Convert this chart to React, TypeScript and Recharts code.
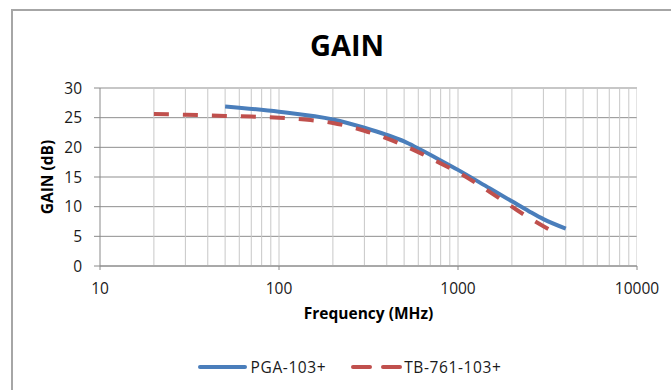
import React from 'react'
import {
	LineChart,
	Line,
	XAxis,
	YAxis,
	CartesianGrid,
	ReferenceLine,
	Legend,
	Label,
} from 'recharts'

const FONT = '"Open Sans", "DejaVu Sans", sans-serif'
const BLUE = '#4a7ebb'
const RED = '#c0504d'

// frequency (MHz) and gain (dB)
const pgaFreq = [50, 100, 200, 300, 400, 500, 600, 800, 1000, 1500, 2000, 2500, 3000, 4000]
const pgaGain = [26.9, 26.0, 24.7, 23.3, 22.1, 21.0, 19.8, 17.8, 16.2, 13.1, 10.9, 9.2, 7.9, 6.3]

const tbFreq = [20, 30, 50, 70, 100, 150, 200, 300, 400, 500, 600, 800, 1000, 1500, 2000, 2500, 3000, 3500]
const tbGain = [25.6, 25.5, 25.3, 25.2, 25.0, 24.6, 24.1, 22.8, 21.5, 20.3, 19.2, 17.3, 15.8, 12.5, 10.0, 8.1, 6.7, 5.6]

const xTicks = [10, 100, 1000, 10000]
const xGridLines = [
	20, 30, 40, 50, 60, 70, 80, 90, 100,
	200, 300, 400, 500, 600, 700, 800, 900, 1000,
	2000, 3000, 4000, 5000, 6000, 7000, 8000, 9000, 10000,
]
const yTicks = [0, 5, 10, 15, 20, 25, 30]

const pgaData = pgaFreq.map((f, i) => ({ freq: f, gain: pgaGain[i] }))
const tbData = tbFreq.map((f, i) => ({ freq: f, gain: tbGain[i] }))

const tickStyle = { fontFamily: FONT, fontSize: 15.5, fill: '#1a1a1a' }

const LegendContent = () => (
	<div
		style={{
			display: 'flex',
			justifyContent: 'center',
			alignItems: 'center',
			paddingLeft: 28,
			fontFamily: FONT,
			fontSize: 15.5,
			letterSpacing: 0.6,
			color: '#1a1a1a',
		}}
	>
		<svg width={49} height={10} style={{ marginRight: 4 }}>
			<line x1={2} y1={5} x2={47} y2={5} stroke={BLUE} strokeWidth={4} strokeLinecap="round" />
		</svg>
		<span>PGA-103+</span>
		<svg width={51} height={10} style={{ marginLeft: 25, marginRight: 2 }}>
			<line x1={2} y1={5} x2={49} y2={5} stroke={RED} strokeWidth={4} strokeLinecap="round" strokeDasharray="17 13" />
		</svg>
		<span>TB-761-103+</span>
	</div>
)

const YLabel = ({ viewBox }: any) => {
	const cx = viewBox.x + 7
	const cy = viewBox.y + viewBox.height / 2
	return (
		<text
			x={cx}
			y={cy}
			transform={`rotate(-90, ${cx}, ${cy})`}
			textAnchor="middle"
			dominantBaseline="central"
			style={{ fontFamily: FONT, fontSize: 15.5, fontWeight: 700, fill: '#000' }}
		>
			GAIN (dB)
		</text>
	)
}

const App: React.FC = () => {
	return (
		<div style={{ position: 'absolute', left: 0, top: 0, width: 671, height: 390, background: '#fff', overflow: 'hidden' }}>
			<div
				style={{
					position: 'absolute',
					left: 11,
					top: 9,
					width: 700,
					height: 420,
					borderLeft: '2px solid #a6a6a6',
					borderTop: '2px solid #a6a6a6',
				}}
			/>
			<svg width={671} height={80} style={{ position: 'absolute', left: 0, top: 0 }}>
				<text x={347} y={56} textAnchor="middle" style={{ fontFamily: FONT, fontSize: 29, fontWeight: 700, fill: '#000' }}>
					GAIN
				</text>
			</svg>
			<div style={{ position: 'absolute', left: 0, top: 0 }}>
				<LineChart width={671} height={390} margin={{ top: 88, right: 34, left: 40, bottom: 68 }}>
					<CartesianGrid vertical={false} stroke="#8f8f8f" strokeWidth={1} />
					{xGridLines.map((v) => (
						<ReferenceLine key={v} x={v} stroke="#c8c8c8" strokeWidth={1} ifOverflow="hidden" />
					))}
					<XAxis
						dataKey="freq"
						type="number"
						scale="log"
						domain={[10, 10000]}
						ticks={xTicks}
						allowDataOverflow
						height={56}
						tickSize={4}
						tickMargin={13}
						tick={tickStyle}
						stroke="#8a8a8a"
						tickLine={{ stroke: '#8a8a8a' }}
					>
						<Label
							value="Frequency (MHz)"
							position="insideBottom"
							offset={3}
							style={{ fontFamily: FONT, fontSize: 15.5, fontWeight: 700, fill: '#000' }}
						/>
					</XAxis>
					<YAxis
						type="number"
						domain={[0, 30]}
						ticks={yTicks}
						width={60}
						tickSize={6}
						tickMargin={12}
						tick={tickStyle}
						stroke="#8a8a8a"
						tickLine={{ stroke: '#8a8a8a' }}
					>
						<Label content={YLabel} />
					</YAxis>
					<Line
						data={pgaData}
						dataKey="gain"
						name="PGA-103+"
						type="monotone"
						stroke={BLUE}
						strokeWidth={4}
						dot={false}
						isAnimationActive={false}
					/>
					<Line
						data={tbData}
						dataKey="gain"
						name="TB-761-103+"
						type="monotone"
						stroke={RED}
						strokeWidth={4}
						strokeDasharray="15 14"
						dot={false}
						isAnimationActive={false}
					/>
					<Legend
						layout="horizontal"
						verticalAlign="middle"
						align="center"
						content={LegendContent}
						wrapperStyle={{ position: 'absolute', top: 356, left: 0, width: 671 }}
					/>
				</LineChart>
			</div>
		</div>
	)
}

export default App
